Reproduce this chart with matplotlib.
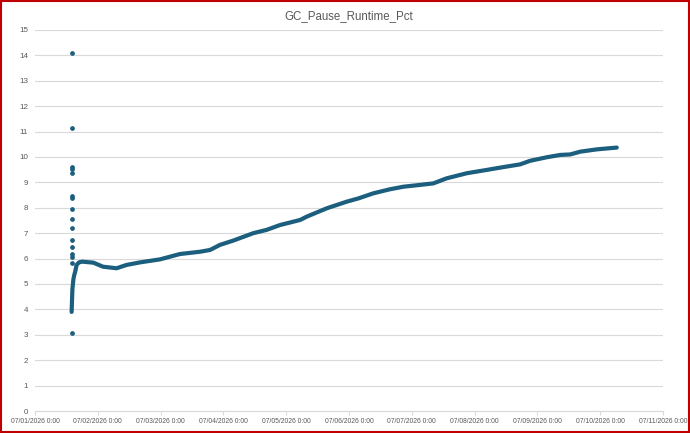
import datetime as dt
import matplotlib
matplotlib.use("Agg")
import matplotlib.pyplot as plt
import matplotlib.dates as mdates
from matplotlib.patches import Rectangle
from matplotlib.ticker import FuncFormatter

# hours after 07/01/2026 0:00 and pause pct
start_hours = [14.0, 14.1, 14.2, 14.3, 14.5, 14.7, 15.0, 15.4, 15.9, 16.8, 18.0]
start_pct = [3.9, 4.2, 4.5, 4.8, 5.0, 5.2, 5.35, 5.5, 5.75, 5.85, 5.88]

trend_hours = [22.3, 26.0, 31.2, 35.0, 40.1, 47.8, 55.4, 63.1, 66.9, 70.7, 75.8,
               83.4, 88.5, 93.6, 101.3, 103.8, 111.5, 119.1, 123.6, 129.3, 135.7,
               140.8, 147.1, 152.2, 157.3, 165.0, 172.6, 177.7, 185.4, 189.2,
               195.6, 200.7, 204.5, 208.4, 214.7, 222.3]
trend_pct = [5.84, 5.68, 5.62, 5.75, 5.85, 5.97, 6.18, 6.27, 6.34, 6.54, 6.71,
             7.0, 7.13, 7.32, 7.52, 7.65, 7.98, 8.24, 8.37, 8.57, 8.73,
             8.83, 8.90, 8.96, 9.16, 9.36, 9.49, 9.58, 9.71, 9.85,
             9.99, 10.08, 10.10, 10.21, 10.30, 10.37]

# early outliers around 07/01 14:00
outlier_hours = [14.0] * 16
outlier_pct = [14.1, 11.13, 9.62, 9.51, 9.38, 8.46, 8.37, 7.95, 7.55, 7.22,
               6.73, 6.47, 6.18, 6.08, 5.81, 3.07]

base = dt.datetime(2026, 7, 1)
to_dt = lambda hrs: [base + dt.timedelta(hours=h) for h in hrs]

color = "#1b5e7e"
grey = "#595959"
plt.rcParams["font.family"] = ["Liberation Sans", "DejaVu Sans"]

fig = plt.figure(figsize=(6.9, 4.33), dpi=100)
ax = fig.add_axes([0.0507, 0.0508, 0.9103, 0.880])

# dense markers in the original read as one thick line
line_x = to_dt(start_hours + trend_hours)
line_y = start_pct + trend_pct
ax.plot(line_x, line_y, color=color, lw=3.0, solid_capstyle="round",
        solid_joinstyle="round", zorder=3)
ax.plot(to_dt(outlier_hours), outlier_pct, linestyle="none", marker="o",
        markersize=2.4, color=color, zorder=3)

ax.set_xlim(base, base + dt.timedelta(days=10))
ax.set_ylim(0, 15)
ax.set_yticks(range(0, 16))
ax.xaxis.set_major_locator(mdates.DayLocator())
ax.xaxis.set_major_formatter(FuncFormatter(
    lambda v, pos: "{:%m/%d/%Y} {}:{:%M}".format(mdates.num2date(v), mdates.num2date(v).hour, mdates.num2date(v))))

ax.grid(axis="y", color="#d9d9d9", lw=0.8)
ax.set_axisbelow(True)
for s in ["top", "right", "left"]:
    ax.spines[s].set_visible(False)
ax.spines["bottom"].set_color("#d9d9d9")
ax.spines["bottom"].set_linewidth(0.8)
ax.tick_params(axis="y", length=0, pad=5, labelsize=5.8, labelcolor=grey)
ax.tick_params(axis="x", length=3, color="#d9d9d9", pad=2, labelsize=4.9, labelcolor=grey)

ax.set_title("GC_Pause_Runtime_Pct", fontsize=8.3, color=grey, pad=8)

# chart selection frame
fig.patches.append(Rectangle((0.002, 0.003), 0.996, 0.994, transform=fig.transFigure,
                             fill=False, edgecolor="#c00000", lw=1.5))

fig.savefig("out.png", dpi=100)
